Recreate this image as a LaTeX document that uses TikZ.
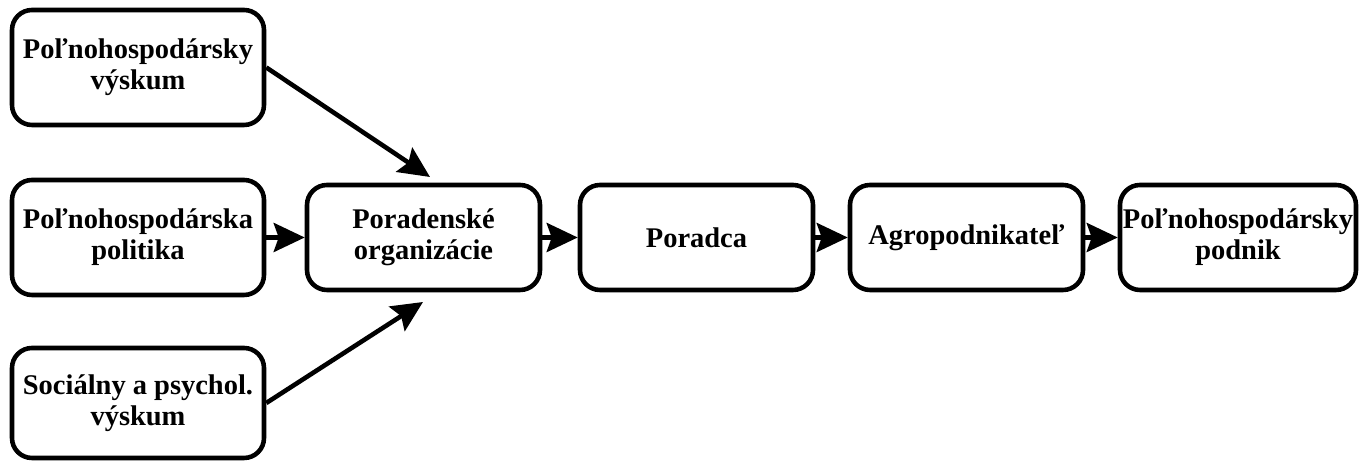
\documentclass[tikz,border=0pt]{standalone}
\usepackage{fontspec}
\setmainfont{Liberation Serif}
\usetikzlibrary{shapes,arrows.meta}
\tikzstyle{line} = [draw, line width=2.6pt, -{Stealth[length=0.62cm,width=0.58cm,inset=0.1cm]}]
\tikzstyle{box} = [draw, line width=2.6pt, rounded corners=0.4cm, align=center, inner sep=0pt, font=\fontsize{16.2}{17.5}\selectfont\bfseries]

\begin{document}
\begin{tikzpicture}
\useasboundingbox (0,0) rectangle (27.2,9.22);
\node (vyskum) at (2.76,7.87) [box, minimum width=5.04cm, minimum height=2.3cm] {Poľnohospodársky\\výskum};
\node (politika) at (2.76,4.47) [box, minimum width=5.04cm, minimum height=2.3cm] {Poľnohospodárska\\politika};
\node (socialny) at (2.76,1.16) [box, minimum width=5.04cm, minimum height=2.2cm] {Sociálny a psychol.\\výskum};
\node (org) at (8.47,4.47) [box, minimum width=4.66cm, minimum height=2.1cm] {Poradenské\\organizácie};
\node (poradca) at (13.93,4.47) [box, minimum width=4.66cm, minimum height=2.1cm] {Poradca};
\node (agro) at (19.33,4.47) [box, minimum width=4.66cm, minimum height=2.1cm] {Agropodnikateľ};
\node (podnik) at (24.76,4.47) [box, minimum width=4.72cm, minimum height=2.1cm] {Poľnohospodársky\\podnik};
\coordinate (orgtop) at (8.6,5.68);
\coordinate (orgbot) at (8.46,3.18);
% draw lines
\path [line] (vyskum.east) -- (orgtop);
\path [line] (socialny.east) -- (orgbot);
\path [line] (politika) -- (org);
\path [line] (org) -- (poradca);
\path [line] (poradca) -- (agro);
\path [line] (agro) -- (podnik);
\end{tikzpicture}
\end{document}
